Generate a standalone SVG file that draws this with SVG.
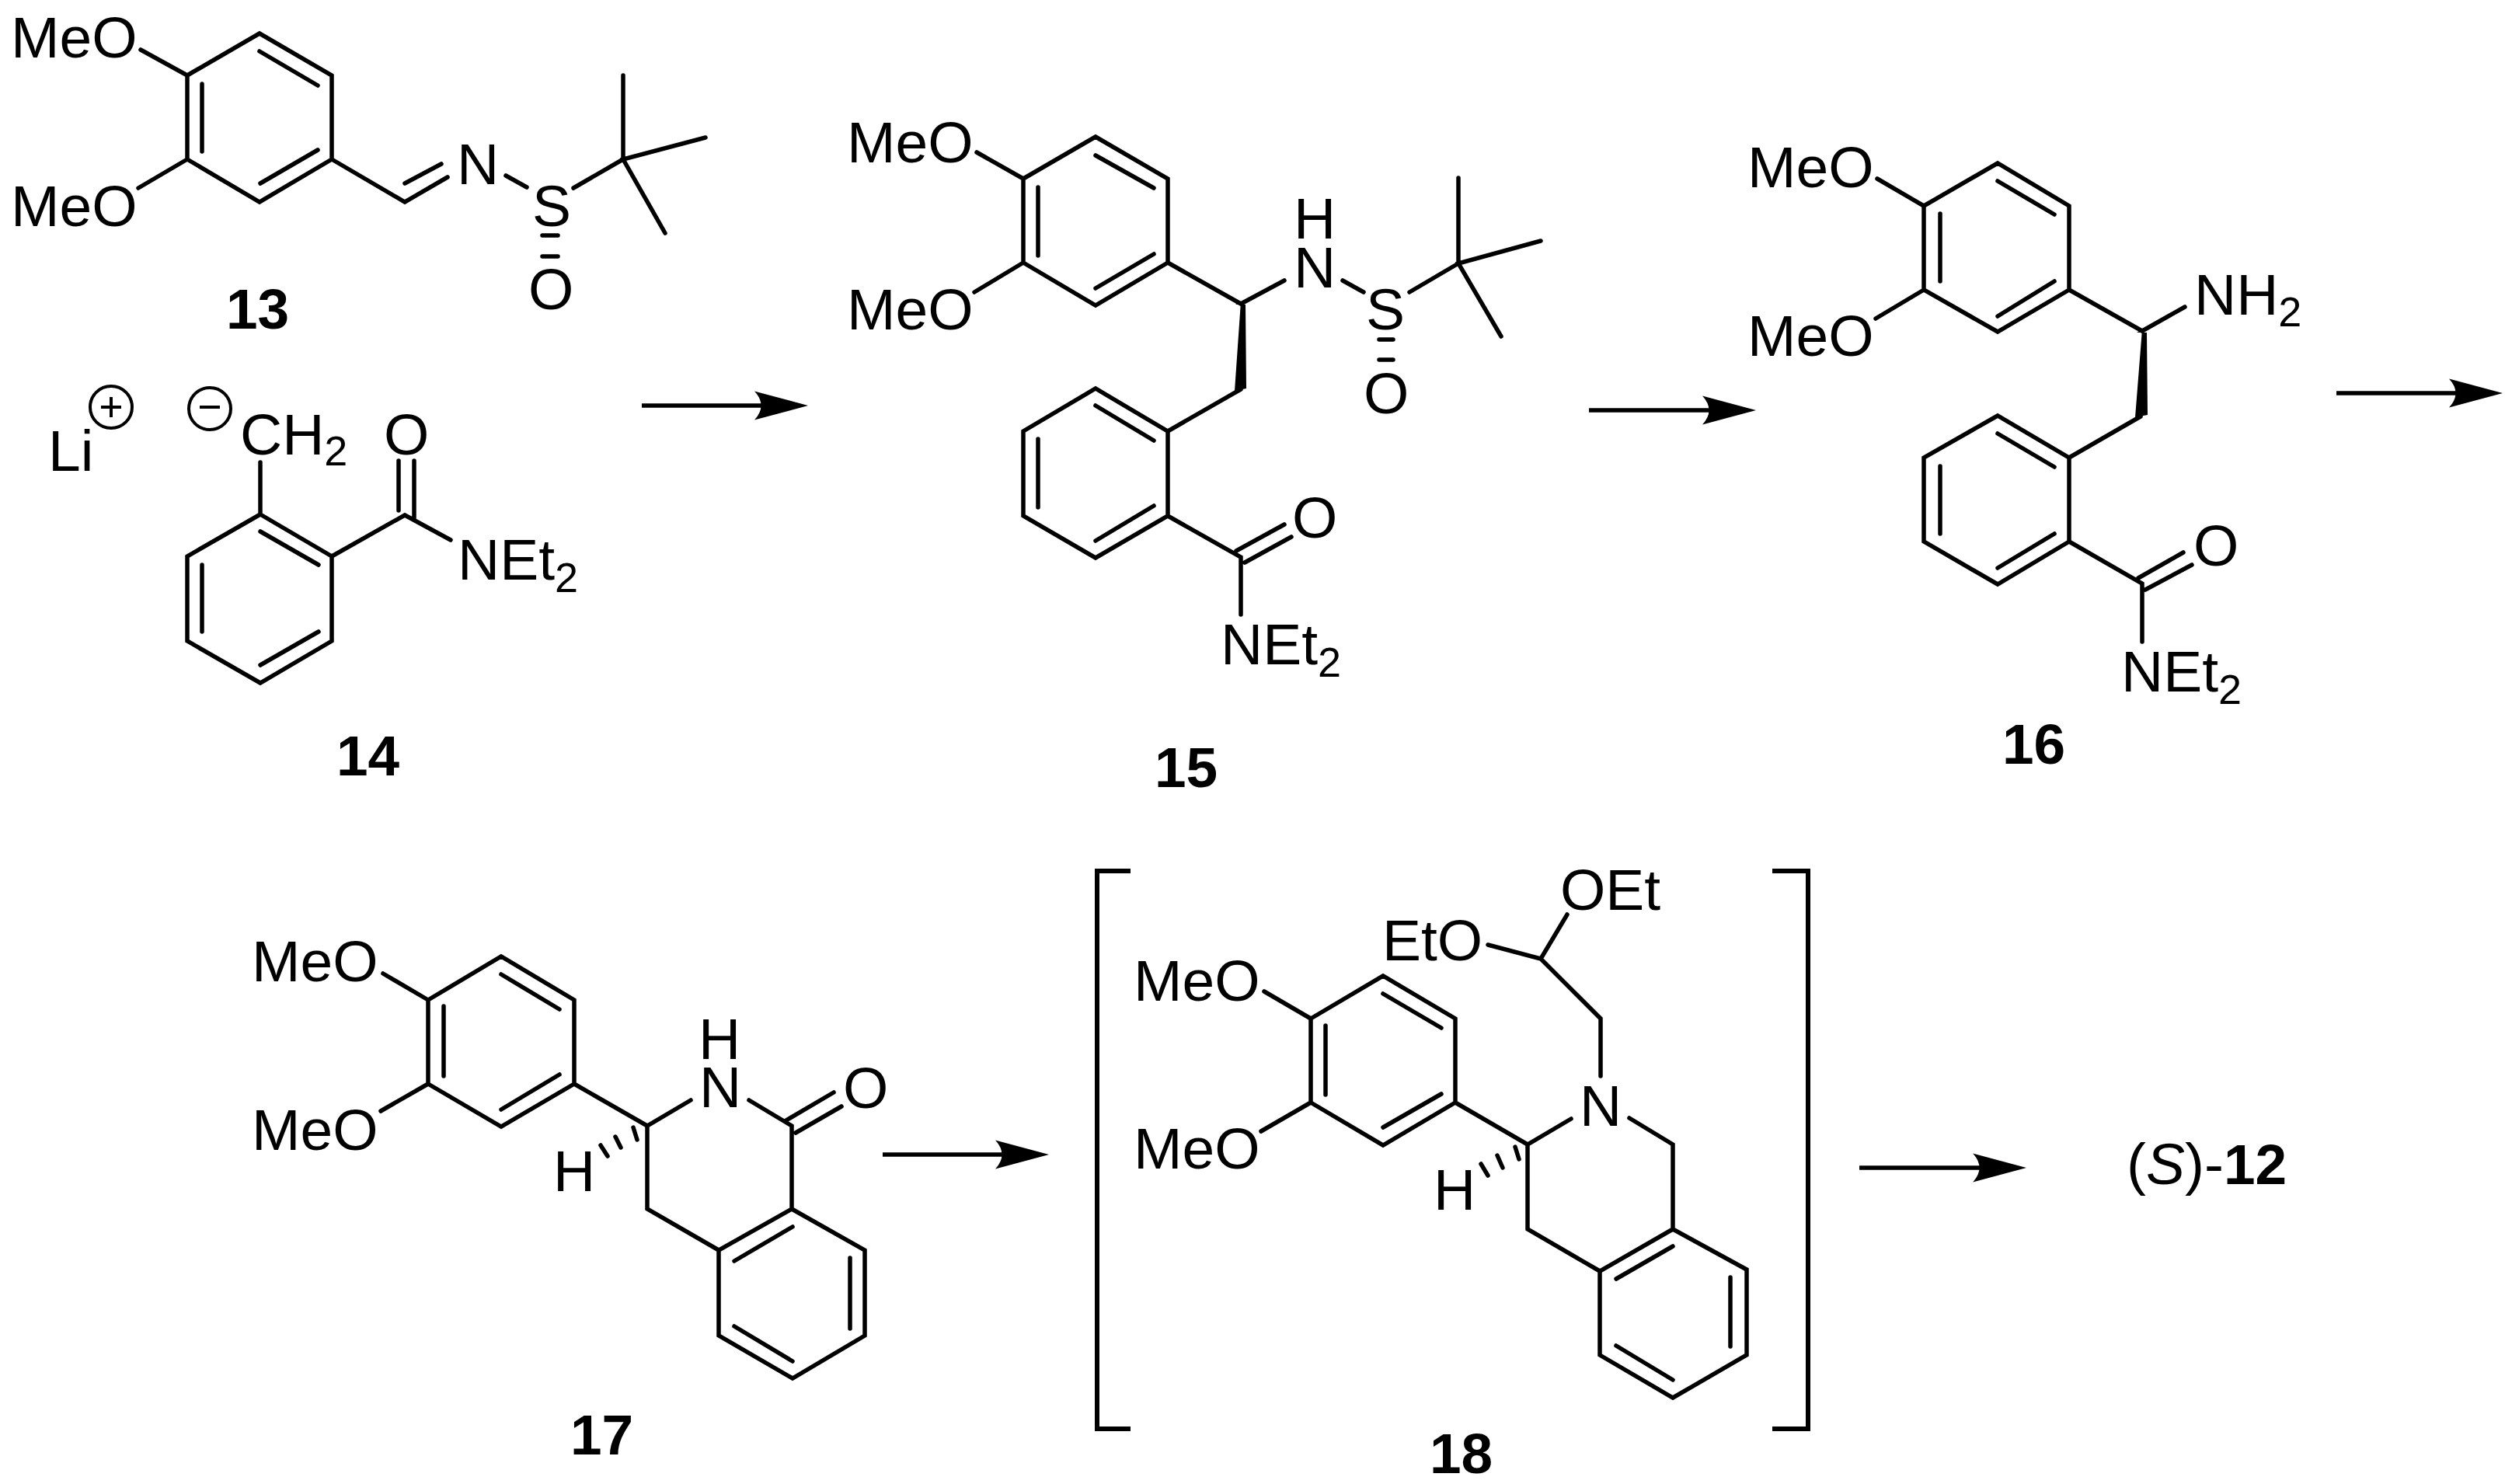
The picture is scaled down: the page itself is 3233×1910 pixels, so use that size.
<svg xmlns="http://www.w3.org/2000/svg" width="3233" height="1910" viewBox="0 0 3233 1910">
<style>
text{font-family:"Liberation Sans",Arial,sans-serif;font-size:75px;fill:#000}
.sub{font-size:54px}
.lbl{font-weight:bold;font-size:73px}
.b{fill:none;stroke:#000;stroke-width:5.500;stroke-linejoin:miter;stroke-linecap:round}
.w{fill:#000;stroke:none}
.br{fill:none;stroke:#000;stroke-width:6;stroke-linejoin:miter}
.a{fill:none;stroke:#000;stroke-width:5.500;marker-end:url(#h)}
.c{fill:none;stroke:#000;stroke-width:4}
</style>
<defs>
<marker id="h" markerUnits="userSpaceOnUse" markerWidth="72" markerHeight="40" refX="9" refY="19" orient="auto" overflow="visible"><path d="M0,0.500L69,19L0,37.500Q17,19 0,0.500Z" fill="#000"/></marker>
</defs>
<rect width="3233" height="1910" fill="#fff"/>
<g id="mol13">
<path class="b" d="M241,97L334,43L427,97L427,205L334,260L241,205ZM260,108V195M334,66L409,110M335,236L409,193M181,64L241,97M178,242L241,205M427,205L521,260L576,228M521,236L568,211M651,226L678,241M738,242L802,205M802,97V205M908,177L802,205L856,300M698,303H718M698,330H718"/>
<text x="14" y="74">MeO</text><text x="14" y="291">MeO</text>
<text x="588" y="237">N</text><text x="685" y="291">S</text><text x="680" y="398">O</text>
<text class="lbl" x="291" y="423">13</text>
</g>
<g id="mol14">
<text x="62" y="606">Li</text>
<circle class="c" cx="143" cy="524" r="27"/><path class="c" d="M130,524H156M143,511V537"/>
<circle class="c" cx="270" cy="526" r="27"/><path class="c" d="M257,524H283"/>
<text x="309" y="585">CH<tspan class="sub" dy="14">2</tspan></text>
<text x="494" y="585">O</text>
<path class="b" d="M335,595V662M335,662L427,716V825L335,879L241,825V716ZM335,684L410,727M260,727V813M335,856L410,813M427,716L521,663L580,695M513,593V657M533,593V669"/>
<text x="589" y="746">NEt<tspan class="sub" dy="16">2</tspan></text>
<text class="lbl" x="433" y="998">14</text>
</g>
<g id="mol15">
<path class="b" d="M1317,230L1410,176L1503,230V338L1410,393L1317,338ZM1336,241V329M1410,200L1485,242M1410,371L1485,327M1257,196L1317,230M1254,376L1317,338M1503,338L1597,391L1653,361M1728,361L1755,376M1814,376L1877,339M1877,229V339M1983,310L1877,339L1932,433M1775,437H1793M1775,463H1793M1597,501L1503,555L1410,500L1317,555V664L1410,718L1503,664V555M1410,522L1485,567M1336,565V653M1410,696L1485,651M1503,664L1597,717V791M1591,709L1653,675M1602,724L1662,691"/>
<path class="w" d="M1597,388L1590,392H1603L1604,500L1589,503Z"/>
<text x="1090" y="209">MeO</text><text x="1090" y="424">MeO</text>
<text x="1665" y="307">H</text><text x="1665" y="370">N</text><text x="1758" y="424">S</text><text x="1755" y="532">O</text><text x="1663" y="692">O</text>
<text x="1571" y="855">NEt<tspan class="sub" dy="16">2</tspan></text>
<text class="lbl" x="1486" y="1013">15</text>
</g>
<g id="mol16">
<path class="b" d="M2476,265L2571,210L2663,265V373L2571,427L2476,373ZM2497,275V362M2571,233L2644,276M2571,407L2644,362M2416,230L2476,265M2414,410L2476,373M2663,373L2757,426L2812,395M2755,536L2663,589L2571,535L2476,589V697L2571,752L2663,697V589M2571,558L2644,601M2497,600V687M2571,731L2644,687M2663,697L2757,751V826M2752,744L2810,711M2761,759L2821,727"/>
<path class="w" d="M2757,424L2750,428H2763L2764,534L2748,537Z"/>
<text x="2249" y="241">MeO</text><text x="2249" y="458">MeO</text>
<text x="2824" y="405">NH<tspan class="sub" dy="15">2</tspan></text>
<text x="2823" y="728">O</text>
<text x="2730" y="890">NEt<tspan class="sub" dy="16">2</tspan></text>
<text class="lbl" x="2577" y="983">16</text>
</g>
<g id="mol17">
<path class="b" d="M551,1287L645,1231L739,1287V1395L645,1450L551,1395ZM571,1295V1385M645,1254L720,1299M645,1428L720,1383M493,1253L551,1287M490,1430L551,1395M739,1395L833,1449L889,1416M964,1416L1019,1449V1556M1010,1443L1073,1406M1024,1458L1083,1424M833,1449V1556L925,1609M1019,1556L1113,1609V1719L1020,1774L925,1719V1609ZM1020,1579L945,1623M1094,1619V1710M945,1707L1020,1752M815,1451L820,1467M792,1463L799,1477M773,1474L782,1488"/>
<text x="324" y="1263">MeO</text><text x="324" y="1480">MeO</text>
<text x="899" y="1363">H</text><text x="900" y="1425">N</text><text x="1085" y="1426">O</text><text x="712" y="1533">H</text>
<text class="lbl" x="734" y="1872">17</text>
</g>
<g id="mol18">
<path class="br" d="M1455,1121H1412V1839H1455M2281,1121H2327V1839H2281"/>
<path class="b" d="M1687,1311L1780,1256L1873,1311V1419L1780,1474L1687,1419ZM1706,1320V1409M1780,1279L1855,1323M1780,1451L1855,1408M1627,1276L1687,1311M1623,1456L1687,1419M1873,1419L1966,1473L2022,1440M2060,1385V1311L1983,1234L1915,1216M1983,1234L2017,1177M2097,1439L2153,1473V1582M1966,1473V1582L2059,1636M2153,1582L2248,1634V1744L2153,1799L2059,1744V1636ZM2153,1604L2080,1646M2227,1644V1733M2080,1732L2153,1776M1950,1476L1955,1492M1927,1487L1934,1503M1906,1498L1915,1513"/>
<text x="1459" y="1288">MeO</text><text x="1459" y="1504">MeO</text>
<text x="1779" y="1236">EtO</text><text x="2008" y="1171">OEt</text>
<text x="2033" y="1449">N</text><text x="1845" y="1557">H</text>
<text class="lbl" x="1840" y="1896">18</text>
</g>
<g id="product12">
<text x="2737" y="1524">(<tspan font-style="italic">S</tspan>)-<tspan class="lbl">12</tspan></text>
</g>
<g id="connectors">
<line class="a" x1="826" y1="522" x2="980" y2="522"/>
<line class="a" x1="2045" y1="528" x2="2200" y2="528"/>
<line class="a" x1="3007" y1="506" x2="3161" y2="506"/>
<line class="a" x1="1136" y1="1486" x2="1290" y2="1486"/>
<line class="a" x1="2393" y1="1503" x2="2548" y2="1503"/>
</g>
</svg>
